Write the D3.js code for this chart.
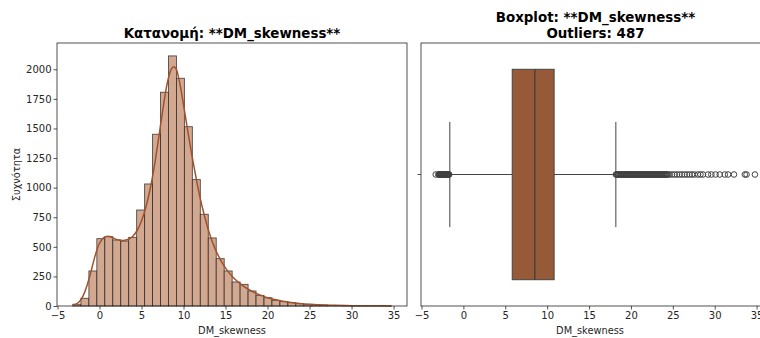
<!DOCTYPE html>
<html><head><meta charset="utf-8">
<script src="https://cdn.jsdelivr.net/npm/d3@7"></script>
<style>
body{margin:0;background:#fff;}
svg{display:block;font-family:"DejaVu Sans",sans-serif;}
</style></head>
<body>
<svg id="c" width="760" height="338"></svg>
<script>
// ---------- data ----------
const varName = "DM_skewness";
const histTitle = "Κατανομή: **DM_skewness**";
const boxTitle1 = "Boxplot: **DM_skewness**";
const boxTitle2 = "Outliers: 487";
const yLabel = "Συχνότητα";
const binStart = -3.16;
const binWidth = 0.9475;
const binCounts = [15,65,296,569,586,558,549,580,811,1031,1451,1806,2113,1924,1515,1068,775,575,400,296,
                   203,183,127,90,70,48,37,28,20,14,10,7,5,4,3,2,2,1,1,1];
const kdeX = [-3.25,-2.5,-2,-1.5,-1,-0.5,0,0.5,1,1.5,2,2.5,3,3.5,4,4.5,5,5.5,6,6.5,7,7.5,8,8.5,8.8,9.1,9.5,10,10.5,11,11.5,12,12.5,13,13.5,14,15,16,17,18,19,20,21,22,23,24,25,26,27,28,30,32,34.75];
const kdeY = [4,30,80,170,295,430,530,578,590,580,563,555,556,566,592,640,720,830,980,1170,1400,1640,1860,1995,2022,2005,1900,1700,1480,1270,1080,905,760,632,530,445,320,235,175,130,96,70,52,38,28,20,15,11,8,6,3,2,1];
const xTicks = [-5,0,5,10,15,20,25,30,35];
const yTicks = [0,250,500,750,1000,1250,1500,1750,2000];
const boxStats = {q1:5.83, median:8.53, q3:10.83, whiskerLow:-1.62, whiskerHigh:18.2};
const outliersLow = [-3.3,-3.0,-2.9,-2.85,-2.8,-2.75,-2.7,-2.65,-2.6,-2.55,-2.5,-2.45,-2.4,-2.35,-2.3,-2.25,-2.2,-2.15,-2.1,-2.05,-2.0,-1.95,-1.9,-1.85,-1.8,-1.75,-1.7];
const outliersHigh = [18.2,18.3,18.4,18.5,18.6,18.7,18.8,18.9,19.0,19.1,19.2,19.3,19.4,19.5,19.6,19.7,19.8,19.9,20.0,
  20.1,20.2,20.3,20.4,20.5,20.6,20.7,20.8,20.9,21.0,21.1,21.2,21.3,21.4,21.5,21.6,21.7,21.8,21.9,22.0,
  22.1,22.2,22.3,22.4,22.5,22.6,22.7,22.8,22.9,23.0,23.1,23.2,23.3,23.4,23.5,23.6,23.7,23.8,23.9,24.0,
  24.1,24.2,24.3,24.4,24.6,24.9,25.2,25.5,25.8,26.1,26.4,26.7,27.0,27.3,27.6,28.0,28.3,28.6,29.2,29.6,
  30.1,30.6,31.2,31.6,32.3,33.6,33.8,34.8];

// ---------- layout ----------
const svg = d3.select("#c");
const L = {x0:57, x1:407, y0:43, y1:306};
const R = {x0:421, x1:770, y0:43, y1:306};
const xDomain = [-5.06, 36.6];
const tickFont = 10;
const inkColor = "#262626";
const fmtX = d=>d<0?"\u2212"+Math.abs(d):String(d);

const xL = d3.scaleLinear().domain(xDomain).range([L.x0, L.x1]);
const yL = d3.scaleLinear().domain([0, 2222]).range([L.y1, L.y0]);
const xR = d3.scaleLinear().domain(xDomain).range([R.x0, R.x1]);
const yR = d3.scaleLinear().domain([-0.5, 0.5]).range([R.y0, R.y1]);

function styleAxis(g){
  g.selectAll("path.domain").remove();
  g.selectAll(".tick line").attr("stroke", inkColor).attr("stroke-width", 0.8);
  g.selectAll(".tick text").attr("fill", inkColor).style("font-size", tickFont+"px").style("font-family","DejaVu Sans");
}

// ---------- histogram ----------
const gL = svg.append("g");
gL.selectAll("rect.bar").data(binCounts).join("rect")
  .attr("x", (d,i)=>xL(binStart+i*binWidth))
  .attr("width", (d,i)=>xL(binStart+(i+1)*binWidth)-xL(binStart+i*binWidth))
  .attr("y", d=>yL(d))
  .attr("height", d=>yL(0)-yL(d))
  .attr("fill", "rgb(210,168,144)")
  .attr("stroke", "rgba(30,30,30,0.75)")
  .attr("stroke-width", 0.9);

const kdeLine = d3.line().x((d,i)=>xL(kdeX[i])).y(d=>yL(d)).curve(d3.curveCatmullRom.alpha(0.5));
gL.append("path").datum(kdeY).attr("d", kdeLine)
  .attr("fill","none").attr("stroke","#a0522d").attr("stroke-width",1.5);

gL.append("g").attr("transform",`translate(0,${L.y1})`)
  .call(d3.axisBottom(xL).tickValues(xTicks).tickSize(3.5).tickPadding(2).tickFormat(fmtX))
  .call(styleAxis);
gL.append("g").attr("transform",`translate(${L.x0},0)`)
  .call(d3.axisLeft(yL).tickValues(yTicks).tickSize(3.5).tickPadding(2).tickFormat(d=>String(d)))
  .call(styleAxis);
gL.append("rect").attr("x",L.x0).attr("y",L.y0).attr("width",L.x1-L.x0).attr("height",L.y1-L.y0)
  .attr("fill","none").attr("stroke",inkColor).attr("stroke-width",0.8);

gL.append("text").attr("x",(L.x0+L.x1)/2).attr("y",37.5).attr("text-anchor","middle")
  .style("font-size","13.4px").style("font-weight","bold").attr("fill","#000").text(histTitle);
gL.append("text").attr("x",(L.x0+L.x1)/2).attr("y",334).attr("text-anchor","middle")
  .style("font-size","9.8px").attr("fill",inkColor).text(varName);
gL.append("text").attr("transform",`translate(20,${(L.y0+L.y1)/2}) rotate(-90)`).attr("text-anchor","middle")
  .style("font-size","9.8px").attr("fill",inkColor).text(yLabel);

// ---------- boxplot ----------
const gR = svg.append("g");
const lineC = "#444";
const cy = yR(0);
gR.append("line").attr("x1",xR(boxStats.whiskerLow)).attr("x2",xR(boxStats.q1)).attr("y1",cy).attr("y2",cy)
  .attr("stroke",lineC).attr("stroke-width",1);
gR.append("line").attr("x1",xR(boxStats.q3)).attr("x2",xR(boxStats.whiskerHigh)).attr("y1",cy).attr("y2",cy)
  .attr("stroke",lineC).attr("stroke-width",1);
[boxStats.whiskerLow, boxStats.whiskerHigh].forEach(v=>{
  gR.append("line").attr("x1",xR(v)).attr("x2",xR(v)).attr("y1",yR(-0.2)).attr("y2",yR(0.2))
    .attr("stroke",lineC).attr("stroke-width",1);
});
gR.append("rect").attr("x",xR(boxStats.q1)).attr("width",xR(boxStats.q3)-xR(boxStats.q1))
  .attr("y",yR(-0.4)).attr("height",yR(0.4)-yR(-0.4))
  .attr("fill","#975a38").attr("stroke",lineC).attr("stroke-width",1);
gR.append("line").attr("x1",xR(boxStats.median)).attr("x2",xR(boxStats.median)).attr("y1",yR(-0.4)).attr("y2",yR(0.4))
  .attr("stroke","#3a3a3a").attr("stroke-width",1.2);
gR.selectAll("circle.out").data(outliersLow.concat(outliersHigh)).join("circle")
  .attr("cx", d=>xR(d)).attr("cy", cy).attr("r", 2.8)
  .attr("fill","none").attr("stroke","#3f3f3f").attr("stroke-width",1);

gR.append("g").attr("transform",`translate(0,${R.y1})`)
  .call(d3.axisBottom(xR).tickValues(xTicks).tickSize(3.5).tickPadding(2).tickFormat(fmtX))
  .call(styleAxis);
gR.append("line").attr("x1",R.x0-3.5).attr("x2",R.x0).attr("y1",cy).attr("y2",cy).attr("stroke",inkColor).attr("stroke-width",0.8);
gR.append("rect").attr("x",R.x0).attr("y",R.y0).attr("width",R.x1-R.x0).attr("height",R.y1-R.y0)
  .attr("fill","none").attr("stroke",inkColor).attr("stroke-width",0.8);

gR.append("text").attr("x",(R.x0+R.x1)/2).attr("y",21.5).attr("text-anchor","middle")
  .style("font-size","13.4px").style("font-weight","bold").attr("fill","#000").text(boxTitle1);
gR.append("text").attr("x",(R.x0+R.x1)/2).attr("y",37.5).attr("text-anchor","middle")
  .style("font-size","13.4px").style("font-weight","bold").attr("fill","#000").text(boxTitle2);
gR.append("text").attr("x",590).attr("y",334).attr("text-anchor","middle")
  .style("font-size","9.8px").attr("fill",inkColor).text(varName);
</script>
</body></html>
